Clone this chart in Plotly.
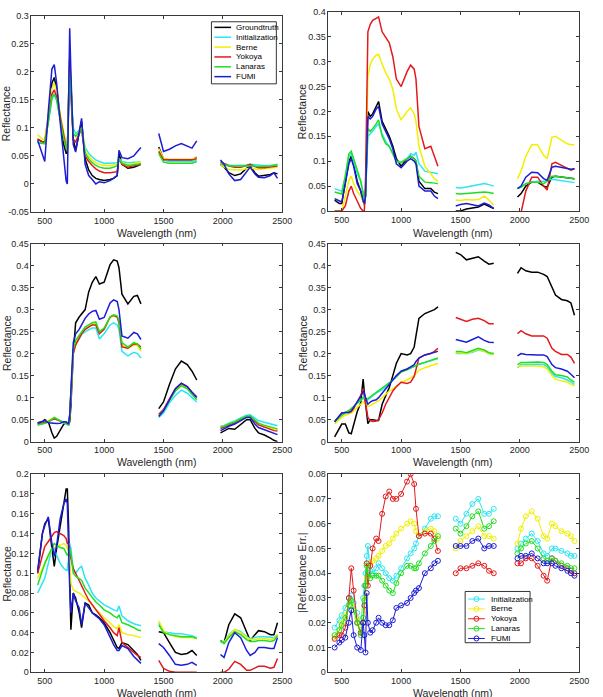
import plotly.graph_objects as go

# ---------------- data ----------------
WL_A = [440, 480, 500, 530, 560, 580, 600, 630, 660, 680, 690, 700, 710, 720, 740, 760, 790, 810, 840, 870,
        900, 930, 960, 1000, 1050, 1080, 1110, 1125, 1150, 1200, 1250, 1280, 1310]
WL_B = [1460, 1500, 1550, 1600, 1650, 1700, 1740, 1780]
WL_C = [1980, 2010, 2050, 2100, 2150, 2200, 2230, 2270, 2300, 2350, 2400, 2430, 2460]

METHODS = ["Groundtruth", "Initialization", "Berne", "Yokoya", "Lanaras", "FUMI"]
ERR_METHODS = ["Initialization", "Berne", "Yokoya", "Lanaras", "FUMI"]

X_TICKS = [500, 1000, 1500, 2000, 2500]
X_TICK_TEXT = ["500", "1000", "1500", "2000", "2500"]

# Panel 1
p1_groundtruth = [0.080, 0.075, 0.075, 0.120, 0.180, 0.190, 0.170, 0.120, 0.070, 0.055,
                  0.055, 0.150, 0.225, 0.180, 0.080, 0.060, 0.090, 0.112, 0.045, 0.025,
                  0.015, 0.010, 0.008, 0.006, 0.008, 0.010, 0.015, 0.055, 0.035, 0.028,
                  0.030, 0.033, 0.035] + \
                 [0.066, 0.045, 0.043, 0.043, 0.044, 0.043, 0.043, 0.048] + \
                 [0.035, 0.030, 0.020, 0.015, 0.018, 0.028, 0.032, 0.020, 0.014, 0.015, 0.017, 0.020, 0.018]
p1_initialization = [0.075, 0.073, 0.072, 0.110, 0.150, 0.160, 0.150, 0.115, 0.085, 0.070,
                     0.065, 0.130, 0.200, 0.170, 0.100, 0.090, 0.095, 0.100, 0.065, 0.055,
                     0.048, 0.043, 0.040, 0.037, 0.037, 0.038, 0.038, 0.045, 0.040, 0.038,
                     0.038, 0.039, 0.040] + \
                    [0.057, 0.042, 0.040, 0.040, 0.041, 0.040, 0.040, 0.043] + \
                    [0.038, 0.036, 0.034, 0.033, 0.033, 0.034, 0.035, 0.034, 0.033, 0.033, 0.033, 0.034, 0.035]
p1_berne = [0.088, 0.080, 0.078, 0.120, 0.170, 0.180, 0.165, 0.125, 0.090, 0.070,
            0.065, 0.130, 0.205, 0.165, 0.090, 0.085, 0.095, 0.100, 0.060, 0.050,
            0.043, 0.038, 0.035, 0.033, 0.033, 0.034, 0.035, 0.045, 0.038, 0.035,
            0.036, 0.038, 0.040] + \
           [0.063, 0.046, 0.044, 0.044, 0.045, 0.044, 0.044, 0.047] + \
           [0.035, 0.030, 0.026, 0.025, 0.025, 0.027, 0.028, 0.027, 0.026, 0.027, 0.028, 0.029, 0.030]
p1_yokoya = [0.080, 0.075, 0.073, 0.115, 0.160, 0.168, 0.155, 0.120, 0.085, 0.065,
             0.060, 0.130, 0.210, 0.160, 0.080, 0.075, 0.090, 0.098, 0.050, 0.040,
             0.033, 0.027, 0.023, 0.020, 0.020, 0.021, 0.022, 0.045, 0.035, 0.030,
             0.032, 0.034, 0.036] + \
            [0.058, 0.043, 0.043, 0.043, 0.044, 0.043, 0.043, 0.045] + \
            [0.040, 0.037, 0.032, 0.030, 0.030, 0.033, 0.035, 0.031, 0.029, 0.029, 0.030, 0.031, 0.032]
p1_lanaras = [0.073, 0.072, 0.072, 0.110, 0.155, 0.160, 0.150, 0.115, 0.080, 0.065,
              0.060, 0.125, 0.200, 0.165, 0.090, 0.085, 0.092, 0.098, 0.055, 0.045,
              0.038, 0.033, 0.030, 0.028, 0.028, 0.030, 0.032, 0.045, 0.037, 0.033,
              0.034, 0.035, 0.036] + \
             [0.054, 0.039, 0.037, 0.037, 0.038, 0.037, 0.037, 0.040] + \
             [0.036, 0.034, 0.032, 0.032, 0.032, 0.033, 0.033, 0.032, 0.031, 0.031, 0.032, 0.033, 0.034]
p1_fumi = [0.078, 0.050, 0.040, 0.130, 0.205, 0.213, 0.180, 0.110, 0.040, 0.005,
           0.000, 0.160, 0.278, 0.200, 0.070, 0.057, 0.095, 0.117, 0.035, 0.015,
           0.008, 0.000, 0.004, 0.002, 0.006, 0.010, 0.015, 0.060, 0.047, 0.045,
           0.050, 0.058, 0.065] + \
          [0.090, 0.058, 0.062, 0.068, 0.072, 0.067, 0.064, 0.077] + \
          [0.043, 0.035, 0.018, 0.006, 0.008, 0.022, 0.030, 0.018, 0.012, 0.011, 0.015, 0.020, 0.010]

# Panel 2
p2_groundtruth = [0.022, 0.015, 0.015, 0.060, 0.100, 0.110, 0.095, 0.060, 0.040, 0.020,
                  0.012, 0.030, 0.130, 0.200, 0.190, 0.195, 0.210, 0.220, 0.180, 0.165,
                  0.150, 0.130, 0.105, 0.090, 0.105, 0.110, 0.105, 0.100, 0.060, 0.045,
                  0.045, 0.038, 0.035] + \
                 [0.000, 0.000, 0.004, 0.006, 0.008, 0.014, 0.010, 0.005] + \
                 [0.028, 0.035, 0.050, 0.058, 0.058, 0.050, 0.048, 0.068, 0.070, 0.068, 0.066, 0.066, 0.065]
p2_initialization = [0.045, 0.042, 0.040, 0.070, 0.110, 0.115, 0.100, 0.075, 0.060, 0.040,
                     0.025, 0.030, 0.100, 0.150, 0.155, 0.160, 0.170, 0.175, 0.155, 0.140,
                     0.130, 0.115, 0.100, 0.098, 0.105, 0.115, 0.112, 0.118, 0.095, 0.080,
                     0.078, 0.076, 0.075] + \
                    [0.047, 0.046, 0.048, 0.050, 0.053, 0.055, 0.053, 0.050] + \
                    [0.045, 0.048, 0.055, 0.058, 0.060, 0.060, 0.062, 0.064, 0.063, 0.061, 0.059, 0.058, 0.057]
p2_berne = [0.000, 0.000, 0.000, 0.030, 0.062, 0.070, 0.055, 0.040, 0.030, 0.020,
            0.012, 0.050, 0.200, 0.270, 0.295, 0.305, 0.313, 0.315, 0.295, 0.278,
            0.265, 0.245, 0.205, 0.183, 0.200, 0.207, 0.195, 0.180, 0.130, 0.090,
            0.075, 0.065, 0.060] + \
           [0.022, 0.021, 0.023, 0.022, 0.023, 0.030, 0.022, 0.012] + \
           [0.065, 0.080, 0.110, 0.133, 0.133, 0.112, 0.105, 0.148, 0.150, 0.142, 0.135, 0.133, 0.133]
p2_yokoya = [0.000, 0.000, 0.000, 0.010, 0.040, 0.050, 0.035, 0.020, 0.005, 0.000,
             0.000, 0.060, 0.250, 0.360, 0.375, 0.383, 0.387, 0.390, 0.360, 0.350,
             0.338, 0.310, 0.265, 0.250, 0.280, 0.293, 0.285, 0.265, 0.170, 0.125,
             0.130, 0.110, 0.090] + \
            [-0.005, -0.005, -0.005, -0.005, -0.005, -0.005, -0.005, -0.005] + \
            [-0.005, -0.003, 0.040, 0.068, 0.068, 0.050, 0.042, 0.095, 0.098, 0.092, 0.085, 0.082, 0.085]
p2_lanaras = [0.038, 0.035, 0.034, 0.070, 0.115, 0.120, 0.105, 0.080, 0.060, 0.035,
              0.020, 0.030, 0.110, 0.165, 0.160, 0.165, 0.175, 0.183, 0.150, 0.135,
              0.130, 0.115, 0.100, 0.097, 0.105, 0.110, 0.105, 0.100, 0.070, 0.058,
              0.057, 0.056, 0.055] + \
             [0.035, 0.034, 0.035, 0.036, 0.037, 0.038, 0.037, 0.035] + \
             [0.045, 0.048, 0.055, 0.058, 0.058, 0.055, 0.060, 0.070, 0.070, 0.068, 0.066, 0.065, 0.065]
p2_fumi = [0.025, 0.020, 0.018, 0.055, 0.095, 0.105, 0.090, 0.055, 0.040, 0.020,
           0.015, 0.030, 0.120, 0.190, 0.185, 0.190, 0.205, 0.210, 0.175, 0.160,
           0.145, 0.125, 0.095, 0.087, 0.100, 0.105, 0.100, 0.095, 0.050, 0.040,
           0.040, 0.030, 0.025] + \
          [0.010, 0.013, 0.015, 0.012, 0.010, 0.016, 0.012, 0.005] + \
          [0.045, 0.050, 0.068, 0.078, 0.077, 0.065, 0.062, 0.088, 0.090, 0.088, 0.085, 0.084, 0.085]

# Panel 3
p3_groundtruth = [0.043, 0.045, 0.050, 0.045, 0.020, 0.008, 0.012, 0.025, 0.040, 0.042,
                  0.040, 0.038, 0.045, 0.080, 0.200, 0.270, 0.283, 0.290, 0.300, 0.340,
                  0.362, 0.375, 0.358, 0.362, 0.402, 0.413, 0.410, 0.395, 0.335, 0.313,
                  0.330, 0.332, 0.313] + \
                 [0.075, 0.090, 0.130, 0.165, 0.183, 0.175, 0.160, 0.140] + \
                 [0.020, 0.025, 0.030, 0.028, 0.040, 0.050, 0.050, 0.030, 0.020, 0.015, 0.008, 0.003, 0.000]
p3_initialization = [0.038, 0.040, 0.042, 0.045, 0.050, 0.052, 0.050, 0.046, 0.043, 0.042,
                     0.040, 0.038, 0.058, 0.105, 0.200, 0.220, 0.235, 0.243, 0.250, 0.255,
                     0.258, 0.258, 0.233, 0.245, 0.265, 0.270, 0.265, 0.255, 0.205, 0.195,
                     0.203, 0.200, 0.190] + \
                    [0.055, 0.065, 0.088, 0.105, 0.117, 0.110, 0.100, 0.090] + \
                    [0.035, 0.037, 0.042, 0.047, 0.054, 0.060, 0.061, 0.053, 0.048, 0.044, 0.040, 0.038, 0.036]
p3_berne = [0.040, 0.042, 0.045, 0.048, 0.052, 0.054, 0.050, 0.047, 0.044, 0.043,
            0.041, 0.040, 0.060, 0.108, 0.205, 0.225, 0.238, 0.247, 0.257, 0.262,
            0.267, 0.268, 0.247, 0.256, 0.282, 0.286, 0.282, 0.272, 0.220, 0.212,
            0.220, 0.218, 0.205] + \
           [0.060, 0.071, 0.095, 0.117, 0.129, 0.122, 0.110, 0.099] + \
           [0.032, 0.035, 0.040, 0.045, 0.051, 0.057, 0.057, 0.047, 0.040, 0.035, 0.030, 0.028, 0.027]
p3_yokoya = [0.040, 0.042, 0.043, 0.045, 0.050, 0.052, 0.050, 0.047, 0.045, 0.043,
             0.041, 0.040, 0.060, 0.105, 0.200, 0.220, 0.235, 0.245, 0.255, 0.260,
             0.265, 0.265, 0.245, 0.255, 0.283, 0.287, 0.283, 0.270, 0.215, 0.212,
             0.222, 0.222, 0.215] + \
            [0.062, 0.073, 0.097, 0.120, 0.132, 0.125, 0.112, 0.102] + \
            [0.030, 0.033, 0.038, 0.043, 0.050, 0.056, 0.057, 0.045, 0.038, 0.033, 0.028, 0.025, 0.024]
p3_lanaras = [0.038, 0.040, 0.042, 0.045, 0.052, 0.055, 0.052, 0.048, 0.045, 0.042,
              0.040, 0.038, 0.060, 0.110, 0.210, 0.230, 0.242, 0.250, 0.260, 0.265,
              0.270, 0.272, 0.250, 0.258, 0.283, 0.288, 0.285, 0.275, 0.225, 0.215,
              0.225, 0.222, 0.210] + \
             [0.058, 0.070, 0.093, 0.115, 0.127, 0.120, 0.107, 0.095] + \
             [0.033, 0.035, 0.040, 0.045, 0.052, 0.058, 0.058, 0.048, 0.042, 0.037, 0.033, 0.030, 0.029]
p3_fumi = [0.042, 0.045, 0.048, 0.043, 0.042, 0.040, 0.041, 0.042, 0.045, 0.045,
           0.042, 0.040, 0.060, 0.120, 0.225, 0.245, 0.255, 0.265, 0.280, 0.290,
           0.296, 0.298, 0.278, 0.282, 0.315, 0.322, 0.318, 0.300, 0.240, 0.235,
           0.248, 0.245, 0.232] + \
          [0.057, 0.070, 0.095, 0.120, 0.133, 0.125, 0.112, 0.100] + \
          [0.025, 0.030, 0.035, 0.040, 0.047, 0.055, 0.055, 0.040, 0.032, 0.027, 0.022, 0.018, 0.016]

# Panel 4
p4_groundtruth = [0.011, 0.030, 0.040, 0.040, 0.020, 0.018, 0.040, 0.068, 0.088, 0.142,
                  0.112, 0.090, 0.060, 0.041, 0.050, 0.050, 0.048, 0.048, 0.085, 0.105,
                  0.123, 0.150, 0.178, 0.200, 0.197, 0.200, 0.215, 0.240, 0.280, 0.291,
                  0.297, 0.300, 0.306] + \
                 [0.430, 0.425, 0.413, 0.417, 0.420, 0.410, 0.403, 0.405] + \
                 [0.382, 0.395, 0.388, 0.385, 0.385, 0.380, 0.375, 0.350, 0.333, 0.323, 0.320, 0.315, 0.287]
p4_initialization = [0.047, 0.056, 0.061, 0.066, 0.070, 0.074, 0.079, 0.087, 0.094, 0.098,
                     0.097, 0.095, 0.094, 0.095, 0.100, 0.104, 0.110, 0.113, 0.118, 0.125,
                     0.132, 0.140, 0.148, 0.160, 0.165, 0.168, 0.170, 0.172, 0.176, 0.180,
                     0.184, 0.187, 0.189] + \
                    [0.200, 0.200, 0.200, 0.203, 0.208, 0.205, 0.200, 0.198] + \
                    [0.168, 0.175, 0.175, 0.176, 0.176, 0.175, 0.170, 0.155, 0.148, 0.145, 0.140, 0.135, 0.130]
p4_berne = [0.040, 0.050, 0.055, 0.060, 0.062, 0.065, 0.070, 0.078, 0.085, 0.090,
            0.088, 0.085, 0.082, 0.080, 0.082, 0.085, 0.090, 0.093, 0.100, 0.108,
            0.115, 0.120, 0.125, 0.135, 0.140, 0.145, 0.150, 0.155, 0.162, 0.168,
            0.172, 0.175, 0.178] + \
           [0.202, 0.202, 0.200, 0.205, 0.210, 0.205, 0.200, 0.198] + \
           [0.170, 0.172, 0.172, 0.172, 0.172, 0.170, 0.165, 0.150, 0.142, 0.138, 0.135, 0.130, 0.127]
p4_yokoya = [0.045, 0.058, 0.065, 0.066, 0.066, 0.068, 0.075, 0.090, 0.105, 0.120,
             0.105, 0.090, 0.070, 0.055, 0.048, 0.046, 0.047, 0.050, 0.065, 0.085,
             0.100, 0.115, 0.125, 0.135, 0.132, 0.135, 0.148, 0.165, 0.190, 0.197,
             0.200, 0.205, 0.212] + \
            [0.282, 0.278, 0.273, 0.278, 0.280, 0.275, 0.268, 0.268] + \
            [0.245, 0.252, 0.245, 0.240, 0.240, 0.240, 0.235, 0.212, 0.205, 0.198, 0.198, 0.192, 0.178]
p4_lanaras = [0.045, 0.055, 0.060, 0.065, 0.070, 0.075, 0.080, 0.088, 0.095, 0.100,
              0.100, 0.098, 0.097, 0.098, 0.102, 0.106, 0.112, 0.115, 0.120, 0.127,
              0.133, 0.140, 0.147, 0.158, 0.163, 0.167, 0.170, 0.172, 0.176, 0.180,
              0.185, 0.187, 0.190] + \
             [0.205, 0.205, 0.202, 0.207, 0.212, 0.208, 0.202, 0.200] + \
             [0.175, 0.180, 0.180, 0.181, 0.181, 0.180, 0.175, 0.160, 0.152, 0.150, 0.147, 0.140, 0.135]
p4_fumi = [0.045, 0.060, 0.065, 0.066, 0.066, 0.070, 0.078, 0.090, 0.103, 0.115,
           0.110, 0.100, 0.090, 0.085, 0.090, 0.093, 0.095, 0.100, 0.110, 0.120,
           0.130, 0.140, 0.150, 0.160, 0.165, 0.170, 0.175, 0.182, 0.190, 0.197,
           0.200, 0.203, 0.205] + \
          [0.232, 0.230, 0.226, 0.232, 0.238, 0.230, 0.226, 0.225] + \
          [0.195, 0.200, 0.198, 0.197, 0.197, 0.197, 0.193, 0.175, 0.168, 0.165, 0.160, 0.153, 0.145]

# Panel 5
p5_groundtruth = [0.100, 0.140, 0.150, 0.155, 0.125, 0.107, 0.125, 0.150, 0.170, 0.185,
                  0.185, 0.150, 0.090, 0.043, 0.080, 0.075, 0.060, 0.045, 0.070, 0.068,
                  0.060, 0.058, 0.055, 0.050, 0.040, 0.032, 0.025, 0.024, 0.030, 0.028,
                  0.022, 0.018, 0.012] + \
                 [0.041, 0.040, 0.030, 0.020, 0.018, 0.019, 0.022, 0.017] + \
                 [0.032, 0.030, 0.048, 0.059, 0.055, 0.040, 0.032, 0.038, 0.042, 0.041, 0.038, 0.038, 0.050]
p5_initialization = [0.080, 0.090, 0.095, 0.110, 0.125, 0.125, 0.118, 0.110, 0.105, 0.103,
                     0.103, 0.115, 0.130, 0.125, 0.103, 0.100, 0.105, 0.107, 0.095, 0.088,
                     0.080, 0.075, 0.072, 0.068, 0.065, 0.063, 0.062, 0.067, 0.057, 0.052,
                     0.049, 0.048, 0.047] + \
                    [0.050, 0.041, 0.040, 0.039, 0.039, 0.038, 0.037, 0.035] + \
                    [0.030, 0.030, 0.038, 0.043, 0.041, 0.036, 0.034, 0.035, 0.036, 0.036, 0.035, 0.035, 0.038]
p5_berne = [0.095, 0.105, 0.110, 0.118, 0.124, 0.126, 0.127, 0.128, 0.130, 0.128,
            0.125, 0.122, 0.110, 0.090, 0.083, 0.082, 0.080, 0.078, 0.075, 0.072,
            0.068, 0.063, 0.060, 0.055, 0.050, 0.046, 0.044, 0.048, 0.040, 0.038,
            0.037, 0.036, 0.035] + \
           [0.052, 0.042, 0.038, 0.036, 0.035, 0.035, 0.035, 0.034] + \
           [0.031, 0.030, 0.037, 0.043, 0.040, 0.035, 0.033, 0.033, 0.034, 0.034, 0.033, 0.034, 0.038]
p5_yokoya = [0.100, 0.120, 0.127, 0.132, 0.138, 0.141, 0.142, 0.140, 0.138, 0.135,
             0.130, 0.130, 0.125, 0.115, 0.105, 0.100, 0.092, 0.088, 0.080, 0.073,
             0.068, 0.063, 0.058, 0.052, 0.045, 0.040, 0.037, 0.045, 0.030, 0.025,
             0.020, 0.017, 0.015] + \
            [0.012, 0.004, 0.001, 0.000, 0.000, 0.000, 0.000, 0.000] + \
            [0.000, 0.000, 0.003, 0.011, 0.008, 0.002, 0.002, 0.004, 0.006, 0.006, 0.004, 0.005, 0.014]
p5_lanaras = [0.088, 0.102, 0.110, 0.118, 0.126, 0.130, 0.128, 0.126, 0.125, 0.120,
              0.118, 0.120, 0.125, 0.120, 0.100, 0.097, 0.095, 0.093, 0.085, 0.080,
              0.075, 0.071, 0.068, 0.063, 0.060, 0.057, 0.055, 0.058, 0.050, 0.048,
              0.045, 0.043, 0.042] + \
             [0.048, 0.040, 0.038, 0.037, 0.036, 0.036, 0.036, 0.034] + \
             [0.032, 0.029, 0.035, 0.041, 0.038, 0.033, 0.031, 0.031, 0.032, 0.032, 0.031, 0.032, 0.037]
p5_fumi = [0.103, 0.140, 0.148, 0.157, 0.130, 0.117, 0.128, 0.155, 0.170, 0.175,
           0.170, 0.120, 0.085, 0.060, 0.080, 0.072, 0.065, 0.048, 0.070, 0.065,
           0.060, 0.057, 0.054, 0.048, 0.035, 0.028, 0.022, 0.022, 0.027, 0.024,
           0.016, 0.012, 0.009] + \
          [0.029, 0.025, 0.017, 0.008, 0.007, 0.008, 0.010, 0.007] + \
          [0.018, 0.015, 0.030, 0.040, 0.035, 0.022, 0.017, 0.020, 0.025, 0.025, 0.024, 0.024, 0.035]

# Panel 6 (absolute reflectance error)
p6_initialization = [0.018, 0.021, 0.023, 0.026, 0.030, 0.031, 0.028, 0.024, 0.019, 0.030,
                     0.035, 0.040, 0.047, 0.051, 0.041, 0.040, 0.042, 0.044, 0.042, 0.040,
                     0.038, 0.037, 0.039, 0.042, 0.046, 0.048, 0.050, 0.052, 0.055, 0.058,
                     0.062, 0.063, 0.063] + \
                    [0.062, 0.060, 0.064, 0.068, 0.070, 0.064, 0.064, 0.066] + \
                    [0.050, 0.052, 0.054, 0.056, 0.053, 0.048, 0.047, 0.050, 0.050, 0.049, 0.048, 0.047, 0.047]
p6_berne = [0.014, 0.017, 0.020, 0.023, 0.027, 0.029, 0.026, 0.022, 0.016, 0.020,
            0.025, 0.030, 0.038, 0.043, 0.044, 0.045, 0.046, 0.047, 0.049, 0.051,
            0.052, 0.054, 0.056, 0.058, 0.060, 0.061, 0.060, 0.057, 0.055, 0.057,
            0.058, 0.057, 0.054] + \
           [0.050, 0.053, 0.055, 0.057, 0.059, 0.055, 0.055, 0.054] + \
           [0.052, 0.058, 0.063, 0.065, 0.062, 0.055, 0.054, 0.060, 0.059, 0.057, 0.056, 0.055, 0.053]
p6_yokoya = [0.0135, 0.015, 0.015, 0.018, 0.030, 0.042, 0.033, 0.020, 0.016, 0.020,
             0.027, 0.035, 0.044, 0.035, 0.043, 0.050, 0.054, 0.053, 0.064, 0.071,
             0.073, 0.070, 0.070, 0.072, 0.077, 0.080, 0.076, 0.066, 0.055, 0.056,
             0.056, 0.054, 0.049] + \
            [0.040, 0.042, 0.042, 0.043, 0.044, 0.043, 0.041, 0.040] + \
            [0.044, 0.044, 0.046, 0.046, 0.043, 0.039, 0.037, 0.046, 0.045, 0.043, 0.042, 0.041, 0.040]
p6_lanaras = [0.015, 0.017, 0.019, 0.022, 0.027, 0.029, 0.025, 0.020, 0.015, 0.022,
              0.029, 0.035, 0.043, 0.040, 0.038, 0.039, 0.039, 0.039, 0.037, 0.035,
              0.033, 0.032, 0.036, 0.040, 0.043, 0.043, 0.042, 0.042, 0.044, 0.048,
              0.051, 0.053, 0.055] + \
             [0.058, 0.056, 0.059, 0.063, 0.065, 0.058, 0.059, 0.061] + \
             [0.048, 0.050, 0.052, 0.053, 0.050, 0.046, 0.045, 0.046, 0.045, 0.044, 0.043, 0.042, 0.042]
p6_fumi = [0.010, 0.012, 0.013, 0.014, 0.020, 0.025, 0.015, 0.010, 0.009, 0.020,
           0.015, 0.008, 0.032, 0.020, 0.016, 0.017, 0.020, 0.022, 0.020, 0.019,
           0.019, 0.021, 0.026, 0.027, 0.028, 0.030, 0.032, 0.033, 0.034, 0.040,
           0.042, 0.044, 0.045] + \
          [0.051, 0.051, 0.051, 0.053, 0.054, 0.050, 0.051, 0.051] + \
          [0.046, 0.047, 0.047, 0.048, 0.046, 0.044, 0.044, 0.044, 0.043, 0.042, 0.041, 0.040, 0.039]

P1_TICKS = [-0.05, 0, 0.05, 0.1, 0.15, 0.2, 0.25, 0.3]
P1_TEXT = ["-0.05", "0", "0.05", "0.1", "0.15", "0.2", "0.25", "0.3"]
P2_TICKS = [0, 0.05, 0.1, 0.15, 0.2, 0.25, 0.3, 0.35, 0.4]
P2_TEXT = ["0", "0.05", "0.1", "0.15", "0.2", "0.25", "0.3", "0.35", "0.4"]
P34_TICKS = [0, 0.05, 0.1, 0.15, 0.2, 0.25, 0.3, 0.35, 0.4, 0.45]
P34_TEXT = ["0", "0.05", "0.1", "0.15", "0.2", "0.25", "0.3", "0.35", "0.4", "0.45"]
P5_TICKS = [0, 0.02, 0.04, 0.06, 0.08, 0.1, 0.12, 0.14, 0.16, 0.18, 0.2]
P5_TEXT = ["0", "0.02", "0.04", "0.06", "0.08", "0.1", "0.12", "0.14", "0.16", "0.18", "0.2"]
P6_TICKS = [0, 0.01, 0.02, 0.03, 0.04, 0.05, 0.06, 0.07, 0.08]
P6_TEXT = ["0", "0.01", "0.02", "0.03", "0.04", "0.05", "0.06", "0.07", "0.08"]

# ---------------- styles ----------------
COLORS = {"Groundtruth": "#000000", "Initialization": "#2be6f2", "Berne": "#f0f000",
          "Yokoya": "#e31a1c", "Lanaras": "#22dd22", "FUMI": "#1c1cd6"}
FONT = "Liberation Sans, Arial, Helvetica, sans-serif"
W, H = 603, 697


def px(x):
    return x / W


def py(y):
    return 1 - y / H


def segs(vals):
    a, b = len(WL_A), len(WL_B)
    x = WL_A + [None] + WL_B + [None] + WL_C
    y = vals[:a] + [None] + vals[a:a + b] + [None] + vals[a + b:]
    return x, y


panels = [
    (1, [p1_groundtruth, p1_initialization, p1_berne, p1_yokoya, p1_lanaras, p1_fumi], METHODS),
    (2, [p2_groundtruth, p2_initialization, p2_berne, p2_yokoya, p2_lanaras, p2_fumi], METHODS),
    (3, [p3_groundtruth, p3_initialization, p3_berne, p3_yokoya, p3_lanaras, p3_fumi], METHODS),
    (4, [p4_groundtruth, p4_initialization, p4_berne, p4_yokoya, p4_lanaras, p4_fumi], METHODS),
    (5, [p5_groundtruth, p5_initialization, p5_berne, p5_yokoya, p5_lanaras, p5_fumi], METHODS),
]

fig = go.Figure()
for idx, series, names in panels:
    for vals, name in zip(series, names):
        x, y = segs(vals)
        fig.add_trace(go.Scatter(x=x, y=y, mode="lines", name=name, showlegend=False,
                                 line=dict(color=COLORS[name], width=1.5),
                                 xaxis="x" if idx == 1 else f"x{idx}",
                                 yaxis="y" if idx == 1 else f"y{idx}"))

for vals, name in zip([p6_initialization, p6_berne, p6_yokoya, p6_lanaras, p6_fumi], ERR_METHODS):
    x, y = segs(vals)
    fig.add_trace(go.Scatter(x=x, y=y, mode="lines+markers", name=name, showlegend=False,
                             line=dict(color=COLORS[name], width=1),
                             marker=dict(symbol="circle-open", size=5, color=COLORS[name],
                                         line=dict(width=1, color=COLORS[name])),
                             xaxis="x6", yaxis="y6"))

XL = [px(32), px(287)]
XR = [px(334), px(589)]
domains = {
    1: (XL, [py(210), py(11)], [-0.05, 0.3], P1_TICKS, P1_TEXT),
    2: (XR, [py(209), py(7)], [0, 0.4], P2_TICKS, P2_TEXT),
    3: (XL, [py(443), py(242)], [0, 0.45], P34_TICKS, P34_TEXT),
    4: (XR, [py(443), py(242)], [0, 0.45], P34_TICKS, P34_TEXT),
    5: (XL, [py(677), py(476)], [0, 0.2], P5_TICKS, P5_TEXT),
    6: (XR, [py(677), py(476)], [0, 0.08], P6_TICKS, P6_TEXT),
}

axis_common = dict(showgrid=False, zeroline=False, showline=True, mirror="ticks",
                   linecolor="#3a3a3a", linewidth=0.8, ticks="inside", ticklen=3,
                   tickcolor="#3a3a3a", tickwidth=0.8,
                   tickfont=dict(family=FONT, size=9, color="#262626"))
layout = {}
for i, (xd, yd, yr, yt, ytt) in domains.items():
    xs = "xaxis" if i == 1 else f"xaxis{i}"
    ys = "yaxis" if i == 1 else f"yaxis{i}"
    layout[xs] = dict(domain=xd, range=[388, 2500], tickvals=X_TICKS, ticktext=X_TICK_TEXT,
                      anchor="y" if i == 1 else f"y{i}", **axis_common)
    layout[ys] = dict(domain=yd, range=yr, tickvals=yt, ticktext=ytt,
                      anchor="x" if i == 1 else f"x{i}", **axis_common)
fig.update_layout(**layout)

ann = []
title_font = dict(family=FONT, size=10.5, color="#262626")
# x titles
for cx, cy in [(160, 231), (461, 231), (160, 464), (461, 464), (160, 698), (461, 698)]:
    ann.append(dict(x=px(cx), y=py(cy), xref="paper", yref="paper", text="Wavelength (nm)",
                    showarrow=False, xanchor="center", yanchor="middle", font=title_font))
# y titles
for cx, cy, t in [(7, 110, "Reflectance"), (308, 108, "Reflectance"), (7, 343, "Reflectance"),
                  (308, 343, "Reflectance"), (7, 577, "Reflectance"), (307, 576, "|Refelctance Err.|")]:
    ann.append(dict(x=px(cx), y=py(cy), xref="paper", yref="paper", text=t, textangle=-90,
                    showarrow=False, xanchor="center", yanchor="middle", font=title_font))

shapes = []
leg_font = dict(family=FONT, size=8, color="#000000")
# legend panel 1
shapes.append(dict(type="rect", xref="paper", yref="paper", x0=px(215), x1=px(281), y0=py(80), y1=py(17),
                   line=dict(color="#000000", width=0.8), fillcolor="white", layer="above"))
for k, name in enumerate(METHODS):
    yy = 22.7 + 10 * k
    shapes.append(dict(type="line", xref="paper", yref="paper", x0=px(218), x1=px(235), y0=py(yy), y1=py(yy),
                       line=dict(color=COLORS[name], width=1.5), layer="above"))
    ann.append(dict(x=px(238), y=py(yy), xref="paper", yref="paper", text=name, showarrow=False,
                    xanchor="left", yanchor="middle", font=leg_font))
# legend panel 6
shapes.append(dict(type="rect", xref="paper", yref="paper", x0=px(473), x1=px(539), y0=py(647), y1=py(595),
                   line=dict(color="#000000", width=0.8), fillcolor="white", layer="above"))
for k, name in enumerate(ERR_METHODS):
    yy = 602.7 + 10 * k
    shapes.append(dict(type="line", xref="paper", yref="paper", x0=px(476), x1=px(493), y0=py(yy), y1=py(yy),
                       line=dict(color=COLORS[name], width=1), layer="above"))
    shapes.append(dict(type="circle", xref="paper", yref="paper", xsizemode="pixel", ysizemode="pixel",
                       xanchor=px(484.5), yanchor=py(yy), x0=-2.5, x1=2.5, y0=-2.5, y1=2.5,
                       line=dict(color=COLORS[name], width=1), layer="above"))
    ann.append(dict(x=px(497), y=py(yy), xref="paper", yref="paper", text=name, showarrow=False,
                    xanchor="left", yanchor="middle", font=leg_font))

fig.update_layout(width=W, height=H, margin=dict(l=0, r=0, t=0, b=0),
                  paper_bgcolor="white", plot_bgcolor="white", showlegend=False,
                  annotations=ann, shapes=shapes, font=dict(family=FONT))

fig.write_html("out.html")
